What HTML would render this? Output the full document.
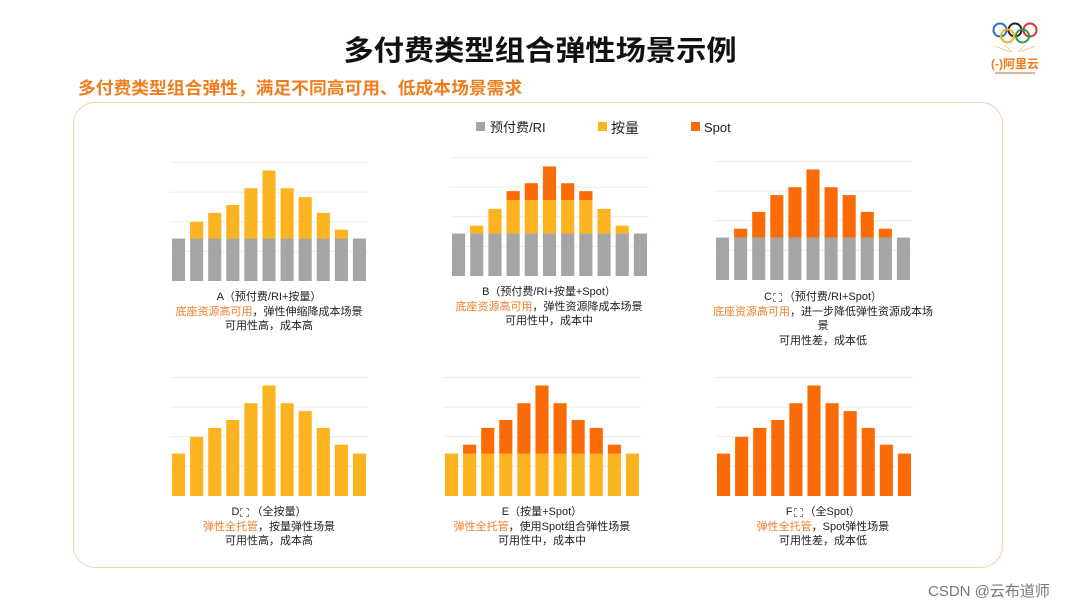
<!DOCTYPE html>
<html><head><meta charset="utf-8">
<style>
body{margin:0;width:1080px;height:608px;background:#fff;position:relative;overflow:hidden;font-family:"Liberation Sans","Noto Sans CJK SC",sans-serif;}
.abs{position:absolute;}
#title{left:0;width:1080px;top:29px;text-align:center;font-size:28px;font-weight:bold;color:#111;}
#title span{display:inline-block;transform:scaleX(1.08);}
#subtitle{left:78px;top:74px;font-size:17px;font-weight:bold;color:#ef7d1c;transform-origin:0 0;transform:scaleX(1.045);white-space:nowrap;}
#box{left:73px;top:102px;width:930px;height:466px;border:1px solid #f3d2ae;border-radius:22px;box-sizing:border-box;}
.cap{position:absolute;width:240px;text-align:center;font-size:11px;line-height:14.5px;color:#222;}
.cap .o{color:#ee7f2a;}
.box{display:inline-block;width:9px;height:9px;border:1px dashed #888;margin:0 2px -2px 1px;box-sizing:border-box;}
#wm{left:928px;top:580px;font-size:15px;color:#777;white-space:nowrap;}
</style></head><body>
<div class="abs" id="title"><span>多付费类型组合弹性场景示例</span></div>
<div class="abs" id="subtitle">多付费类型组合弹性，满足不同高可用、低成本场景需求</div>
<div class="abs" id="box"></div>

<svg class="abs" style="left:985px;top:18px" width="70" height="60">
<g fill="none" stroke-width="2">
<circle cx="15" cy="12" r="6.5" stroke="#2a6fb8"/><circle cx="30" cy="12" r="6.5" stroke="#222"/><circle cx="45" cy="12" r="6.5" stroke="#d9343a"/>
<circle cx="22.5" cy="18" r="6.5" stroke="#f2b12a"/><circle cx="37.5" cy="18" r="6.5" stroke="#2f9a4b"/></g>
<g stroke="#f2c27a" stroke-width="0.8"><line x1="10" y1="28" x2="25" y2="34"/><line x1="50" y1="28" x2="35" y2="34"/><line x1="20" y1="27" x2="27" y2="34"/><line x1="40" y1="27" x2="33" y2="34"/></g>
<text x="30" y="50" text-anchor="middle" font-size="12" font-weight="bold" fill="#ef7d1c" font-family="Liberation Sans,Noto Sans CJK SC,sans-serif">(-)阿里云</text>
<rect x="10" y="54" width="40" height="2" fill="#d8b89a"/>
</svg>

<svg class="abs" style="left:0;top:0" width="1080" height="608" id="charts">
<g id="legend">
<rect x="476" y="122" width="9" height="9" fill="#a5a5a5"/>
<text x="490" y="132" font-size="13" fill="#222">预付费/RI</text>
<rect x="598" y="122" width="9" height="9" fill="#fbb320"/>
<text x="611" y="133" font-size="14" fill="#222">按量</text>
<rect x="691" y="122" width="9" height="9" fill="#fa6b05"/>
<text x="704" y="132" font-size="13" fill="#222">Spot</text>
</g>
</svg>

<div class="cap" style="left:149px;top:290px">A（预付费/RI+按量）<br><span class="o">底座资源高可用</span>，弹性伸缩降成本场景<br>可用性高，成本高</div>
<div class="cap" style="left:429px;top:285px">B（预付费/RI+按量+Spot）<br><span class="o">底座资源高可用</span>，弹性资源降成本场景<br>可用性中，成本中</div>
<div class="cap" style="left:703px;top:290px">C<span class="box"></span>（预付费/RI+Spot）<br><span class="o">底座资源高可用</span>，进一步降低弹性资源成本场<br>景<br>可用性差，成本低</div>
<div class="cap" style="left:149px;top:505px">D<span class="box"></span>（全按量）<br><span class="o">弹性全托管</span>，按量弹性场景<br>可用性高，成本高</div>
<div class="cap" style="left:422px;top:505px">E（按量+Spot）<br><span class="o">弹性全托管</span>，使用Spot组合弹性场景<br>可用性中，成本中</div>
<div class="cap" style="left:703px;top:505px">F<span class="box"></span>（全Spot）<br><span class="o">弹性全托管</span>，Spot弹性场景<br>可用性差，成本低</div>

<div class="abs" id="wm">CSDN @云布道师</div>

<script>
const categories = ["1","2","3","4","5","6","7","8","9","10","11"];
const riA = [43,43,43,43,43,43,43,43,43,43,43];
const ondemandA = [0,17,26,34,51,69,51,42,26,9,0];
const riB = [43,43,43,43,43,43,43,43,43,43,43];
const ondemandB = [0,8,25,34,34,34,34,34,25,8,0];
const spotB = [0,0,0,9,17,34,17,9,0,0,0];
const riC = [43,43,43,43,43,43,43,43,43,43,43];
const spotC = [0,9,26,43,51,69,51,43,26,9,0];
const ondemandD = [43,60,69,77,94,112,94,86,69,52,43];
const ondemandE = [43,43,43,43,43,43,43,43,43,43,43];
const spotE = [0,9,26,34,51,69,51,34,26,9,0];
const spotF = [43,60,69,77,94,112,94,86,69,52,43];
const gridTicks = [30,60,90,120];

const colors = {ri:"#a5a5a5", ondemand:"#fbb320", spot:"#fa6b05"};
const NS = "http://www.w3.org/2000/svg";
const svg = document.getElementById('charts');

function drawChart(name, x0, x1, base, stacks){
  const g = document.createElementNS(NS,'g');
  
  
  svg.appendChild(g);
  const yScale = v => base - v * 0.987;
  const n = categories.length;
  const pitch = (x1 - x0 + 5) / n;
  const bw = pitch - 5;
  const xScale = i => x0 + i * pitch;
  gridTicks.forEach(t => {
    const l = document.createElementNS(NS,'line');
    l.setAttribute('x1', x0 - 2); l.setAttribute('x2', x1 + 2);
    l.setAttribute('y1', yScale(t)); l.setAttribute('y2', yScale(t));
    l.setAttribute('stroke', '#ececec'); l.setAttribute('stroke-width', '1');
    
    
    g.appendChild(l);
  });
  categories.forEach((c, i) => {
    let acc = 0;
    stacks.forEach(s => {
      const v = s.values[i];
      if (v <= 0) return;
      const r = document.createElementNS(NS,'rect');
      r.setAttribute('x', xScale(i));
      r.setAttribute('width', bw);
      r.setAttribute('y', yScale(acc + v));
      r.setAttribute('height', yScale(acc) - yScale(acc + v));
      r.setAttribute('fill', colors[s.key]);
      
      
      g.appendChild(r);
      acc += v;
    });
  });
}
drawChart('a', 172, 366, 281, [{key:'ri',values:riA},{key:'ondemand',values:ondemandA}]);
drawChart('b', 452, 647, 276, [{key:'ri',values:riB},{key:'ondemand',values:ondemandB},{key:'spot',values:spotB}]);
drawChart('c', 716, 910, 280, [{key:'ri',values:riC},{key:'spot',values:spotC}]);
drawChart('d', 172, 366, 496, [{key:'ondemand',values:ondemandD}]);
drawChart('e', 445, 639, 496, [{key:'ondemand',values:ondemandE},{key:'spot',values:spotE}]);
drawChart('f', 717, 911, 496, [{key:'spot',values:spotF}]);
</script>
</body></html>
